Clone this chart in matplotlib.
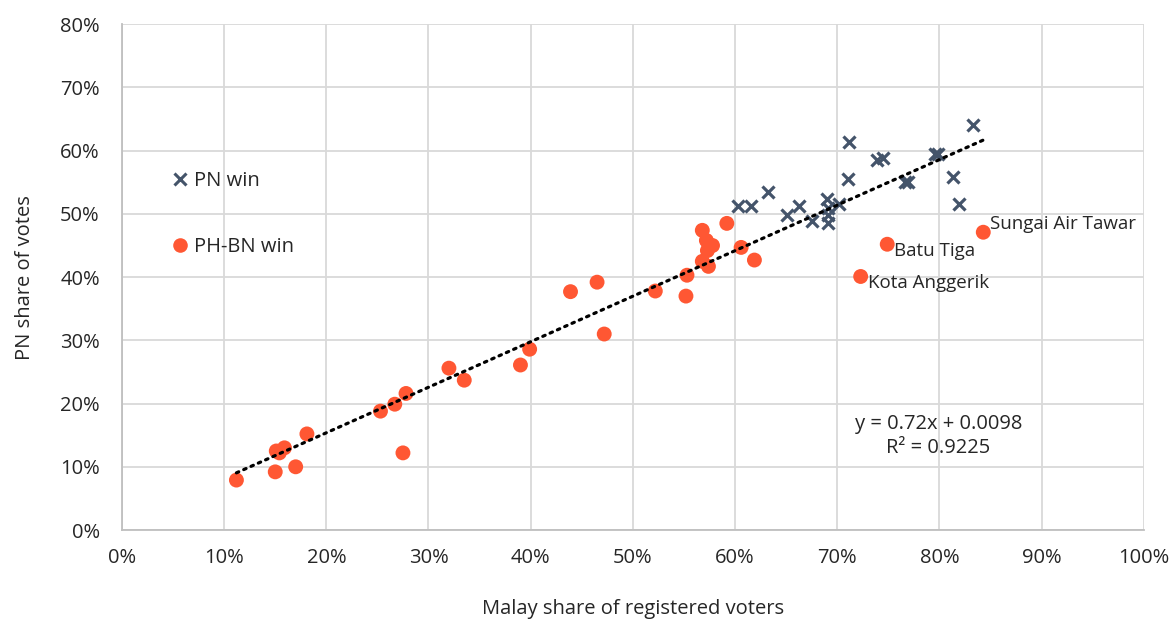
import matplotlib
matplotlib.use("Agg")
import matplotlib.pyplot as plt
import numpy as np
from matplotlib.ticker import PercentFormatter, MultipleLocator
from matplotlib.lines import Line2D

# PN win seats (Malay share %, PN vote share %)
pn_x = [60.3, 61.6, 63.2, 65.1, 66.3, 67.5, 69.0, 69.1, 69.1, 69.1, 70.2, 71.2, 71.1,
        73.9, 74.5, 76.6, 76.9, 79.6, 79.9, 81.3, 81.9, 83.3]
pn_y = [51.2, 51.2, 53.4, 49.8, 51.3, 48.8, 52.3, 51.0, 49.8, 48.5, 51.5, 61.3, 55.5,
        58.6, 58.9, 55.1, 55.1, 59.4, 59.4, 55.8, 51.5, 64.0]

# PH-BN win seats
ph_x = [11.2, 15.1, 15.4, 15.9, 15.0, 17.0, 18.1, 27.5, 25.3, 26.7, 27.8, 32.0, 33.5,
        39.0, 39.9, 43.9, 46.5, 47.2, 52.2, 55.3, 55.2, 56.8, 57.2, 57.8, 57.3, 56.8,
        57.4, 59.2, 60.6, 61.9, 74.9, 72.3, 84.3]
ph_y = [7.9, 12.5, 12.2, 13.0, 9.2, 10.0, 15.2, 12.2, 18.8, 19.9, 21.6, 25.6, 23.7,
        26.1, 28.6, 37.7, 39.2, 31.0, 37.8, 40.3, 37.0, 47.4, 45.8, 45.0, 44.2, 42.5,
        41.7, 48.5, 44.7, 42.7, 45.2, 40.1, 47.1]

label_names = ["Sungai Air Tawar", "Batu Tiga", "Kota Anggerik"]
label_x = [84.3, 74.9, 72.3]
label_y = [47.1, 45.2, 40.1]
label_dy = [6, -5, -5]  # text offset in points

slope, intercept = 0.72, 0.98  # percent units (0.0098 -> 0.98%)

plt.rcParams['font.family'] = ['Open Sans', 'DejaVu Sans']
TXT = '#262626'
FS = 14.5

fig = plt.figure(figsize=(11.73, 6.21), dpi=100)
ax = fig.add_axes([0.104, 0.1465, 0.871, 0.8145])

ax.set_xlim(0, 100)
ax.set_ylim(0, 80)
ax.xaxis.set_major_locator(MultipleLocator(10))
ax.yaxis.set_major_locator(MultipleLocator(10))
ax.xaxis.set_major_formatter(PercentFormatter(decimals=0))
ax.yaxis.set_major_formatter(PercentFormatter(decimals=0))
ax.grid(True, color='#d9d9d9', linewidth=1.3)
ax.set_axisbelow(True)
for s in ['top', 'right']:
    ax.spines[s].set_visible(False)
for s in ['left', 'bottom']:
    ax.spines[s].set_color('#bfbfbf')
    ax.spines[s].set_linewidth(1.3)
ax.tick_params(length=0, labelsize=FS, colors=TXT)
ax.tick_params(axis='x', pad=13)
ax.tick_params(axis='y', pad=16)

ax.scatter(ph_x, ph_y, s=115, color='#FF5733', edgecolors='none', zorder=3)
ax.scatter(pn_x, pn_y, marker='x', s=75, color='#44546A', linewidths=2.3, zorder=3)

allx = np.array(pn_x + ph_x)
xs = np.array([allx.min(), allx.max()])
ax.plot(xs, slope * xs + intercept, linestyle=(0, (0.8, 1.7)), color='black', linewidth=2.3,
        zorder=4, dash_capstyle='round')

for name, lx, ly, dy in zip(label_names, label_x, label_y, label_dy):
    ax.annotate(name, (lx, ly), xytext=(5, dy), textcoords='offset points',
                fontsize=13.5, color=TXT, va='center', ha='left')

ax.text(79.9, 14.85, "y = 0.72x + 0.0098\nR² = 0.9225", ha='center', va='center',
        fontsize=FS, color=TXT, linespacing=1.3)

handles = [Line2D([], [], marker='x', linestyle='none', color='#44546A', markersize=8, mew=2.2),
           Line2D([], [], marker='o', linestyle='none', color='#FF5733', markersize=10.5, mec='none')]
ax.legend(handles, ['PN win', 'PH-BN win'], loc='upper left', bbox_to_anchor=(0.037, 0.73),
          frameon=False, fontsize=FS, labelspacing=2.3, handletextpad=0.2, handlelength=1.0,
          labelcolor=TXT, borderpad=0)

ax.set_xlabel("Malay share of registered voters", fontsize=FS, color=TXT, labelpad=22)
ax.set_ylabel("PN share of votes", fontsize=FS, color=TXT, labelpad=18)

fig.savefig("out.png", dpi=100)
